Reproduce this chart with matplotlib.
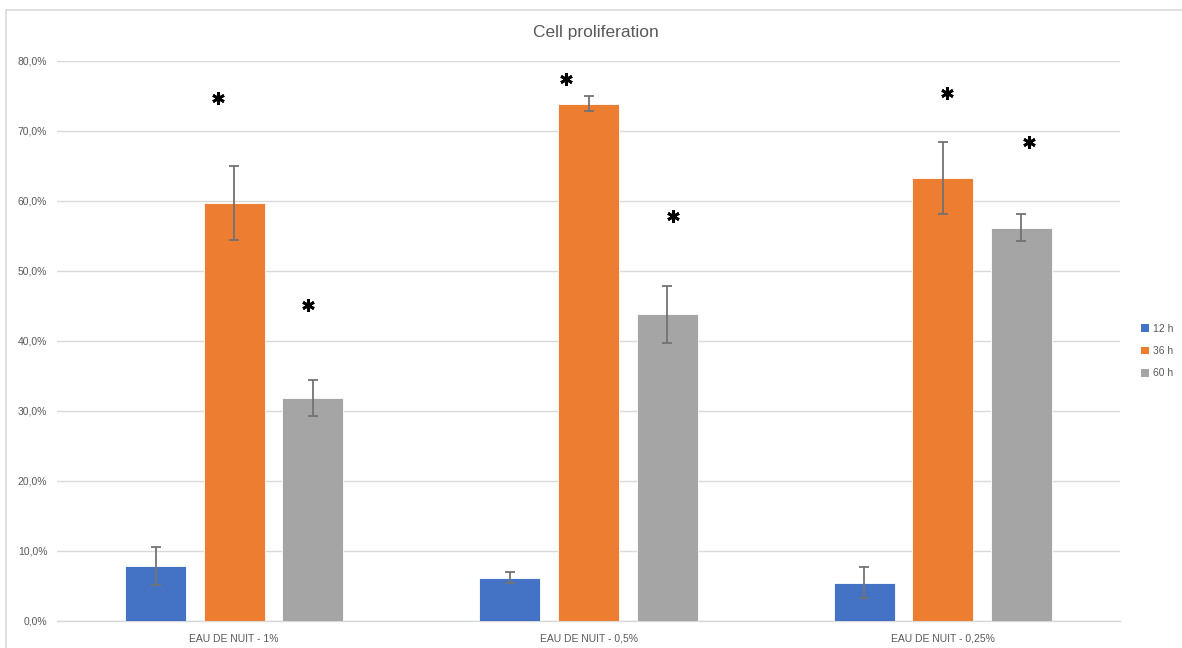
import matplotlib
matplotlib.use("Agg")
import matplotlib.pyplot as plt
from matplotlib.patches import Patch
from matplotlib.lines import Line2D
import numpy as np

categories = ["EAU DE NUIT - 1%", "EAU DE NUIT - 0,5%", "EAU DE NUIT - 0,25%"]
series_names = ["12 h", "36 h", "60 h"]
values_12h = [7.9, 6.2, 5.5]
values_36h = [59.7, 73.9, 63.3]
values_60h = [31.9, 43.8, 56.2]
err_12h = [2.7, 0.8, 2.2]
err_36h = [5.3, 1.1, 5.2]
err_60h = [2.6, 4.05, 1.95]
# significance stars (y position in %), None = no star
stars_12h = [None, None, None]
stars_36h = [74.7, 77.5, 75.4]
stars_60h = [45.1, 57.9, 68.4]
# horizontal shift of each star relative to its bar (category units)
stars_dx_12h = [0, 0, 0]
stars_dx_36h = [-0.046, -0.063, 0.013]
stars_dx_60h = [-0.015, 0.017, 0.020]
yticks = [0, 10, 20, 30, 40, 50, 60, 70, 80]
ytick_labels = ["0,0%", "10,0%", "20,0%", "30,0%", "40,0%", "50,0%", "60,0%", "70,0%", "80,0%"]

colors = ["#4472C4", "#ED7D31", "#A5A5A5"]
plt.rcParams["font.family"] = ["Liberation Sans", "DejaVu Sans"]

fig = plt.figure(figsize=(11.82, 6.48), dpi=100)
ax = fig.add_axes([57 / 1182, 27 / 648, 1063 / 1182, 560 / 648])

x = np.arange(len(categories))
width = 0.1725
offset = 0.222
all_vals = [values_12h, values_36h, values_60h]
all_errs = [err_12h, err_36h, err_60h]
all_stars = [stars_12h, stars_36h, stars_60h]
all_dx = [stars_dx_12h, stars_dx_36h, stars_dx_60h]
for i, (vals, errs, st, dxs) in enumerate(zip(all_vals, all_errs, all_stars, all_dx)):
    pos = x + (i - 1) * offset
    ax.bar(pos, vals, width, color=colors[i], zorder=2, edgecolor="white", linewidth=0.6)
    ax.errorbar(pos, vals, yerr=errs, fmt="none", ecolor="#737373", elinewidth=1.3,
                capsize=3.5, capthick=1.3, zorder=3)
    for p, s, d in zip(pos, st, dxs):
        if s is not None:
            ax.plot([p + d], [s], marker=(6, 2, 0), markersize=9, color="black",
                    markeredgewidth=2.0, linestyle="none", zorder=4)

ax.set_xlim(-0.5, 2.5)
ax.set_ylim(0, 80)
ax.set_yticks(yticks)
ax.set_yticklabels(ytick_labels)
ax.set_xticks(x)
ax.set_xticklabels(categories)
ax.tick_params(axis="both", length=0, labelsize=7.5, labelcolor="#595959")
ax.tick_params(axis="y", pad=7)
ax.tick_params(axis="x", pad=9)
ax.yaxis.grid(True, color="#D9D9D9", linewidth=1.0, zorder=0)
ax.axhline(0, color="#D9D9D9", linewidth=1.0, zorder=1, clip_on=False)
ax.set_axisbelow(True)
for sp in ax.spines.values():
    sp.set_visible(False)

fig.text(596 / 1182, 1 - 33 / 648, "Cell proliferation", ha="center", va="center",
         fontsize=12.5, color="#595959")

handles = [Patch(facecolor=c, edgecolor="none") for c in colors]
fig.legend(handles, series_names, loc="center left", bbox_to_anchor=(1136 / 1182, 1 - 351 / 648),
           frameon=False, fontsize=7.5, labelcolor="#595959", handlelength=0.7,
           handleheight=0.7, handletextpad=0.4, labelspacing=1.2, borderpad=0)

# outer chart border
fig.add_artist(Line2D([6 / 1182, 6 / 1182], [0, 1 - 10 / 648], transform=fig.transFigure,
                      color="#D9D9D9", linewidth=1.2))
fig.add_artist(Line2D([6 / 1182, 1], [1 - 10 / 648, 1 - 10 / 648], transform=fig.transFigure,
                      color="#D9D9D9", linewidth=1.2))

fig.savefig("out.png", dpi=100, facecolor="white")
